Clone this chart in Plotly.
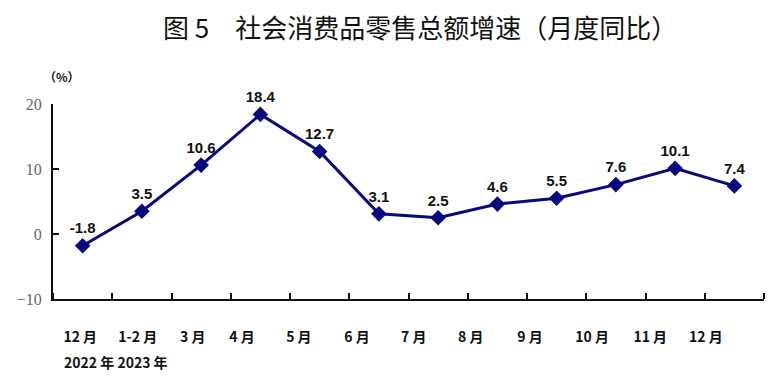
import plotly.graph_objects as go

categories = ["12月", "1-2月", "3月", "4月", "5月", "6月", "7月", "8月", "9月", "10月", "11月", "12月"]
values = [-1.8, 3.5, 10.6, 18.4, 12.7, 3.1, 2.5, 4.6, 5.5, 7.6, 10.1, 7.4]
value_labels = ["-1.8", "3.5", "10.6", "18.4", "12.7", "3.1", "2.5", "4.6", "5.5", "7.6", "10.1", "7.4"]
tick_labels = ["12 月", "1-2 月", "3 月", "4 月", "5 月", "6 月", "7 月", "8 月", "9 月", "10 月", "11 月", "12 月"]
# label positions in category units (labels in the original drift left of the points)
tick_label_pos = [-0.04, 0.93, 1.86, 2.69, 3.65, 4.63, 5.59, 6.55, 7.55, 8.6, 9.58, 10.52]
y_ticks = [-10, 0, 10, 20]
title_text = "图 5　社会消费品零售总额增速（月度同比）"
year_text = "2022 年 2023 年"

x = list(range(len(categories)))
boundaries = [i - 0.5 for i in range(len(categories) + 1)]

fig = go.Figure()
fig.add_trace(go.Scatter(
    x=x, y=values, mode="lines+markers+text",
    text=value_labels, textposition="top center",
    textfont=dict(family="Liberation Sans, Arial", size=15, color="#111111", weight="bold"),
    line=dict(color="#08087F", width=3),
    marker=dict(symbol="diamond", size=12, color="#08087F"),
    cliponaxis=False, hoverinfo="skip", showlegend=False,
))

fig.update_layout(
    width=778, height=385,
    margin=dict(l=53, r=14, t=104, b=86, autoexpand=False),
    plot_bgcolor="white", paper_bgcolor="white",
    title=dict(text=title_text, x=0.54, xanchor="center", y=0.925, yanchor="middle",
               font=dict(family="Noto Sans CJK SC", size=26, color="#111111")),
    xaxis=dict(
        range=[-0.5, len(categories) - 0.5], automargin=False,
        showline=True, linecolor="#111111", linewidth=2,
        showgrid=False, zeroline=False,
        tickmode="array", tickvals=tick_label_pos, ticktext=tick_labels,
        ticks="", ticklabelstandoff=24,
        tickfont=dict(family="Noto Sans CJK SC", size=14, color="#111111", weight="bold"),
        minor=dict(tickmode="array", tickvals=boundaries, ticks="inside", ticklen=6,
                   tickwidth=2, tickcolor="#111111", showgrid=False),
    ),
    yaxis=dict(
        range=[-10, 20], automargin=False,
        showline=True, linecolor="#111111", linewidth=2,
        showgrid=False, zeroline=False,
        tickmode="array", tickvals=y_ticks,
        ticks="inside", ticklen=6, tickwidth=2, tickcolor="#111111",
        tickfont=dict(family="Liberation Serif, Times New Roman, serif", size=16, color="#666666"),
        ticklabelstandoff=6,
    ),
    annotations=[
        dict(text="（%）", xref="paper", yref="paper", x=0.012, y=1.14,
             xanchor="center", yanchor="middle", showarrow=False,
             font=dict(family="Noto Sans CJK SC", size=12, color="#111111", weight="bold")),
        dict(text=year_text, xref="paper", yref="paper", x=0.012, y=-0.325,
             xanchor="left", yanchor="middle", showarrow=False,
             font=dict(family="Noto Sans CJK SC", size=14, color="#111111", weight="bold")),
    ],
)

fig.write_html("out.html", config={"displayModeBar": False},
               post_script="document.body.style.margin='0px';")
